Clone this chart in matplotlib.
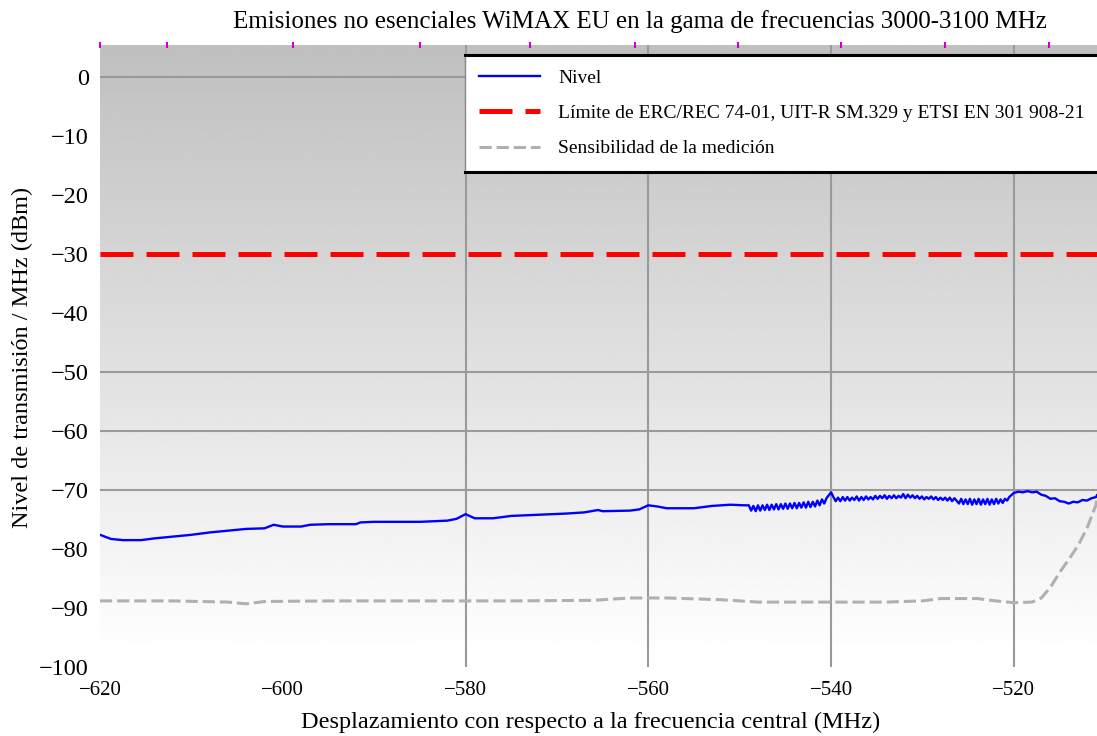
import numpy as np
import matplotlib
matplotlib.use("Agg")
import matplotlib.pyplot as plt
from matplotlib.lines import Line2D

plt.rcParams['font.family'] = ['Liberation Serif', 'DejaVu Serif']

title = "Emisiones no esenciales WiMAX EU en la gama de frecuencias 3000-3100 MHz"
xlabel = "Desplazamiento con respecto a la frecuencia central (MHz)"
ylabel = "Nivel de transmisión / MHz (dBm)"
labels = ["Nivel",
          "Límite de ERC/REC 74-01, UIT-R SM.329 y ETSI EN 301 908-21",
          "Sensibilidad de la medición"]

x_ticks = [-620, -600, -580, -560, -540, -520]
y_ticks = [0, -10, -20, -30, -40, -50, -60, -70, -80, -90, -100]
grid_x = [-580, -560, -540, -520]
grid_y = [0, -50, -60, -70]
limit_level = -30

# measured level (smooth part)
nivel_x1 = [-620, -618.8, -617.5, -615.5, -614, -612, -610, -608, -606, -604,
            -602, -601, -600, -598, -597, -595, -592, -591.5, -590, -588,
            -585, -582, -581, -580, -579, -577, -575, -572, -569, -567,
            -565.5, -565, -562, -561, -560, -559, -558, -555, -553, -551, -549.5]
nivel_y1 = [-77.6, -78.3, -78.5, -78.5, -78.2, -77.9, -77.6, -77.2, -76.9, -76.6,
            -76.5, -75.9, -76.2, -76.2, -75.9, -75.8, -75.8, -75.5, -75.4, -75.4,
            -75.4, -75.2, -74.9, -74.1, -74.8, -74.8, -74.4, -74.2, -74.0, -73.8,
            -73.4, -73.6, -73.5, -73.3, -72.6, -72.8, -73.1, -73.1, -72.7, -72.5, -72.6]
# noisy section -549 .. -540.5
nivel_y2 = [-72.6, -73.5, -72.7, -73.6, -72.6, -73.5, -72.6, -73.4, -72.5, -73.4,
            -72.5, -73.3, -72.4, -73.3, -72.4, -73.2, -72.3, -73.2, -72.3, -73.1,
            -72.2, -73.1, -72.2, -73.0, -72.1, -73.0, -72.0, -72.9, -72.0, -72.8,
            -71.8, -72.6, -71.6, -72.3, -71.4]
# peak at -540, noisy section -539.5 .. -526.5
nivel_y3 = [-70.4, -71.2, -71.9, -71.3, -71.9, -71.2, -71.8, -71.2, -71.8, -71.3,
            -71.7, -71.1, -71.8, -71.2, -71.7, -71.1, -71.6, -71.2, -71.6, -71.0,
            -71.5, -71.0, -71.4, -70.9, -71.5, -71.0, -71.4, -70.9, -71.4, -71.0,
            -71.3, -70.7, -71.4, -70.8, -71.3, -70.9, -71.4, -71.0, -71.5, -71.1,
            -71.6, -71.2, -71.5, -71.1, -71.6, -71.2, -71.7, -71.3, -71.7, -71.3,
            -71.8, -71.3, -71.9, -71.4]
# noisy section -526.5 .. -520.5
nivel_y4 = [-72.3, -71.5, -72.4, -71.6, -72.4, -71.5, -72.5, -71.6, -72.4, -71.5,
            -72.5, -71.6, -72.4, -71.5, -72.5, -71.6, -72.4, -71.5, -72.3, -71.6,
            -72.2, -71.5, -71.8, -71.2]
nivel_x5 = [-520, -519.5, -519, -518.5, -518, -517.5, -517, -516.5, -516, -515.5,
            -515, -514.5, -514, -513.5, -513, -512.5, -512, -511.5, -511, -510.9]
nivel_y5 = [-70.5, -70.3, -70.4, -70.2, -70.4, -70.3, -70.8, -71.0, -71.5, -71.4,
            -71.9, -72.0, -72.3, -72.0, -72.1, -71.7, -71.8, -71.4, -71.2, -70.9]

sens_x = [-620, -612, -606, -604, -602, -595, -585, -575, -566, -562, -558,
          -552, -548, -540, -534, -530, -528, -524, -522, -520, -518, -517,
          -516, -515, -514, -513, -512, -511, -510.9]
sens_y = [-88.8, -88.8, -89.0, -89.3, -88.9, -88.8, -88.8, -88.8, -88.7, -88.3, -88.3,
          -88.6, -89.0, -89.0, -89.0, -88.8, -88.4, -88.4, -88.8, -89.1, -89.0, -88.3,
          -86.5, -84.0, -81.8, -79.5, -76.5, -72.5, -71.0]

top_marks = [-620, -612.7, -598.9, -585.0, -572.9, -561.5, -550.2, -538.9, -527.5, -516.1]

nivel_x = (nivel_x1
           + list(np.linspace(-549, -540.5, len(nivel_y2)))
           + list(np.linspace(-540, -526.5, len(nivel_y3)))
           + list(np.linspace(-526, -520.5, len(nivel_y4)))
           + nivel_x5)
nivel_y = nivel_y1 + nivel_y2 + nivel_y3 + nivel_y4 + nivel_y5

fig = plt.figure(figsize=(10.97, 7.36), dpi=100)
ax = fig.add_axes([100 / 1097, 69 / 736, 997 / 1097, 622 / 736])

xmin, xmax = -620, -510.9
ymin, ymax = -100, 5.4

# background gradient
grad = np.linspace(0.75, 0.995, 256).reshape(-1, 1)
ax.imshow(grad, cmap='gray', vmin=0, vmax=1, aspect='auto', origin='upper',
          extent=[xmin, xmax, -96.3, ymax], zorder=0)

for g in grid_y:
    ax.axhline(g, color='#9a9a9a', lw=1.5, zorder=1)
for g in grid_x:
    ax.axvline(g, color='#9a9a9a', lw=1.5, zorder=1)

ax.plot(nivel_x, nivel_y, color='#0000ff', lw=1.7, zorder=4, label=labels[0])
ax.axhline(limit_level, color='#ff0000', lw=3.6, dashes=(6.6, 2.6), zorder=3,
           label=labels[1])
ax.plot(sens_x, sens_y, color='#b0b0b0', lw=2.2, dashes=(4.0, 1.6), zorder=3,
        label=labels[2])

ax.plot(top_marks, [ymax] * len(top_marks), linestyle='none', marker='|',
        color='#cc00cc', ms=5, mew=1.5, clip_on=False, zorder=5)

ax.set_xlim(xmin, xmax)
ax.set_ylim(ymin, ymax)
ax.set_xticks(x_ticks)
ax.set_yticks(y_ticks)
ax.tick_params(axis='x', length=0, pad=10, labelsize=15)
ax.tick_params(axis='y', length=0, pad=8, labelsize=17.5)
for s in ax.spines.values():
    s.set_visible(False)

leg = ax.legend(loc='upper left', bbox_to_anchor=(0.366, 0.984, 0.7, 0.0),
                mode='expand', borderaxespad=0, fontsize=14, handlelength=3.1,
                handletextpad=0.95, labelspacing=0.9, borderpad=0.75,
                fancybox=False, framealpha=1, edgecolor='#888888')
leg.get_frame().set_linewidth(1.0)
leg.set_zorder(10)

fig.text(640 / 1097, 1 - 22 / 736, title, ha='center', va='center', fontsize=18)
fig.text(591 / 1097, 1 - 722 / 736, xlabel, ha='center', va='center', fontsize=17.6)
fig.text(22 / 1097, 1 - 357 / 736, ylabel, ha='center', va='center', fontsize=17.5,
         rotation=90)

fig.canvas.draw()
bb = leg.get_window_extent()
for yy in (bb.y0, bb.y1):
    fig.add_artist(Line2D([bb.x0, bb.x1], [yy, yy], color='black', lw=2.2,
                          transform=None, zorder=20))

fig.savefig("out.png", dpi=100)
